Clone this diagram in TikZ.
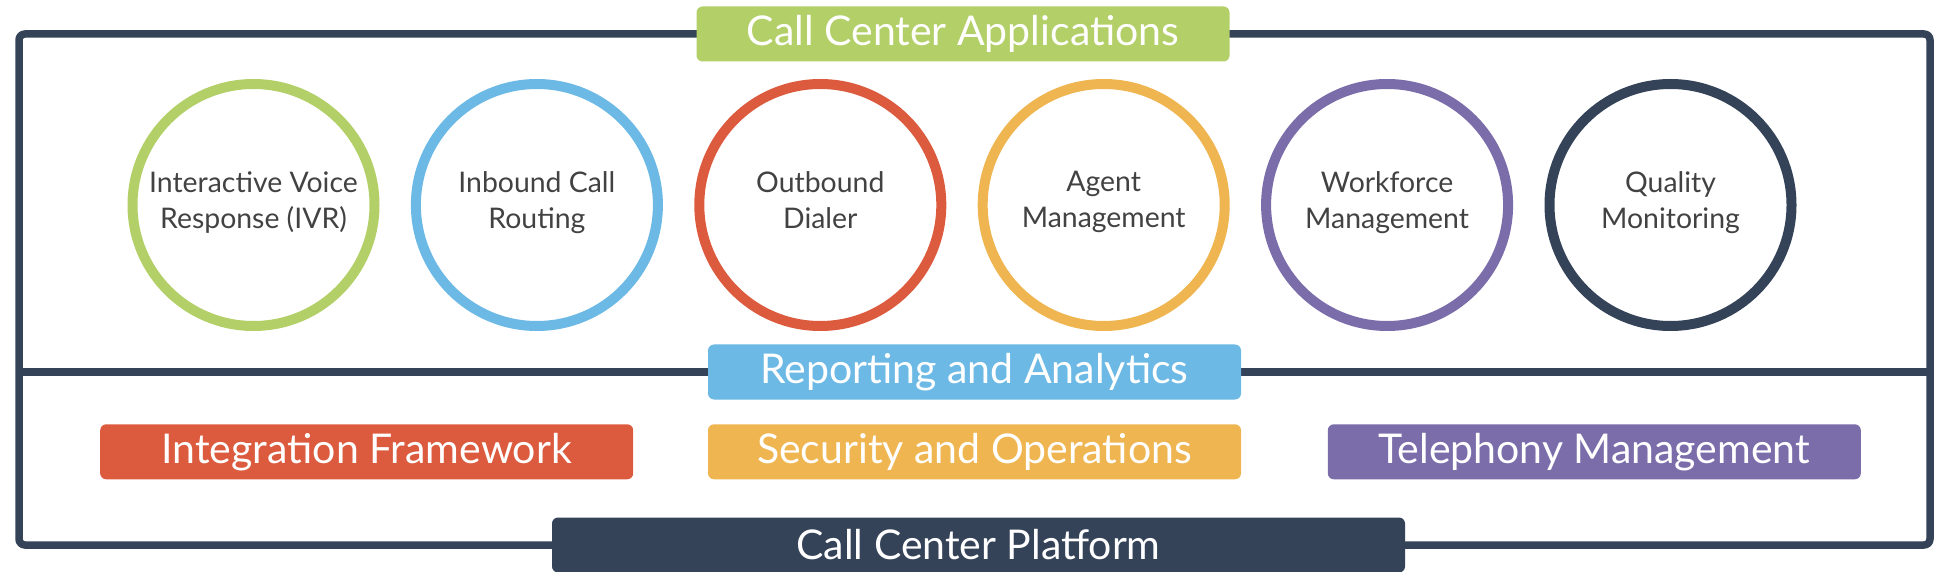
\documentclass[tikz,border=0pt]{standalone}
\usepackage{fontspec}
\setmainfont{Lato}
\usepackage{tikz}
\usetikzlibrary{positioning}
\tikzset{
  app/.style     = {circle, draw, line width=5pt, minimum size=121pt,
                    inner sep=0pt, align=center, text=TextGray,
                    font=\fontsize{14.2}{18}\selectfont,
                    execute at begin node=\rule{0pt}{16.5pt},
                    execute at end node=\strut},
  band/.style    = {rounded corners=3pt, minimum width=266.5pt,
                    minimum height=27.5pt, inner sep=0pt, text=white,
                    font=\fontsize{20.5}{24}\selectfont},
  frame/.style   = {draw=AppDark, line width=3.75pt, rounded corners=3pt}
}
\definecolor{AppGreen}{RGB}{179,207,104}
\definecolor{AppBlue}{RGB}{108,185,229}
\definecolor{AppRed}{RGB}{220,91,62}
\definecolor{AppOrange}{RGB}{239,181,80}
\definecolor{AppPurple}{RGB}{122,109,170}
\definecolor{AppDark}{RGB}{53,67,89}
\definecolor{TextGray}{RGB}{66,66,66}

\begin{document}
\begin{tikzpicture}[x=0.5pt, y=-0.5pt, node distance=15.7pt]
\useasboundingbox (0,0) rectangle (1950,572);
\draw[frame] (19,34) rectangle (1930,545);
\draw[frame, rounded corners=0pt] (19,372) -- (1930,372);

\node[band, fill=AppGreen] (apps) at (963,34) {Call Center Applications};

\node[app, draw=AppGreen] (ivr) at (253.5,205) {Interactive Voice\\Response (IVR)};
\node[app, draw=AppBlue, right=of ivr] (inbound) {Inbound Call\\Routing};
\node[app, draw=AppRed, right=of inbound] (dialer) {Outbound\\Dialer};
\node[app, draw=AppOrange, right=of dialer] (agent) {Agent\\Management};
\node[app, draw=AppPurple, right=of agent] (workforce) {Workforce\\Management};
\node[app, draw=AppDark, right=of workforce] (quality) {Quality\\Monitoring};

\node[band, fill=AppBlue] (reporting) at (974.5,372) {Reporting and Analytics};
\node[band, fill=AppOrange, below=12pt of reporting] (security) {Security and Operations};
\node[band, fill=AppRed, left=37pt of security] (integration) {Integration Framework};
\node[band, fill=AppPurple, right=43pt of security] (telephony) {Telephony Management};

\node[band, fill=AppDark, minimum width=426.5pt] (platform) at (978.5,545) {Call Center Platform};
\end{tikzpicture}
\end{document}
